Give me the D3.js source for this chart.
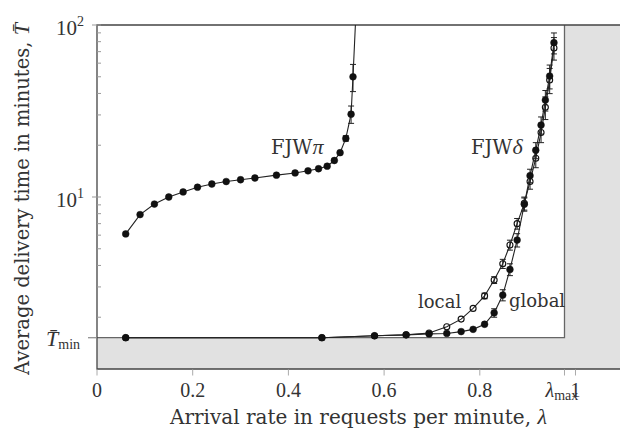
<!DOCTYPE html>
<html>
<head>
<meta charset="utf-8">
<script src="https://cdn.jsdelivr.net/npm/d3@7"></script>
<style>
  body { margin: 0; background: #fff; }
  svg { display: block; }
</style>
</head>
<body>
<svg id="svg" width="620" height="434"></svg>
<script>
// FJW pi series
const lamPi = [0.06, 0.09, 0.12, 0.15, 0.18, 0.21, 0.24, 0.27, 0.30, 0.33, 0.375, 0.414, 0.441, 0.463, 0.481, 0.496, 0.508, 0.520, 0.531, 0.535, 0.545];
const tPi   = [6.1, 7.9, 9.1, 10.0, 10.7, 11.4, 11.9, 12.3, 12.6, 12.9, 13.4, 13.8, 14.2, 14.6, 15.1, 16.3, 18.1, 21.9, 30.3, 50, 200];
const errPi = [0, 0, 0, 0, 0, 0, 0, 0, 0, 0, 0, 0, 0, 0, 0, 0, 0, 0.8, 3.5, 9, 0];

// FJW delta series (global = filled, local = open)
const lamD    = [0.06, 0.47, 0.58, 0.646, 0.694, 0.731, 0.761, 0.786, 0.810, 0.830, 0.848, 0.863, 0.878, 0.893, 0.905, 0.917, 0.928, 0.937, 0.946, 0.955];
const tGlobal = [1.52, 1.52, 1.56, 1.58, 1.60, 1.61, 1.65, 1.70, 1.82, 2.12, 2.69, 3.79, 5.62, 9.07, 13.3, 18.7, 26.2, 36.6, 50.5, 78.9];
const errGlobal = [0, 0, 0, 0, 0, 0, 0, 0, 0, 0.12, 0.2, 0.3, 0.5, 0.8, 1.2, 2, 3, 5, 8, 11];
const tLocal  = [1.52, 1.52, 1.56, 1.58, 1.62, 1.76, 1.95, 2.25, 2.66, 3.29, 4.09, 5.26, 7.0, 9.19, 12.3, 16.8, 23.7, 33.2, 47.9, 73.5];
const errLocal  = [0, 0, 0, 0, 0, 0, 0, 0, 0.1, 0.15, 0.25, 0.35, 0.5, 0.8, 1.2, 2, 3, 5, 8, 11];

// axis ticks
const xTicks = [0, 0.2, 0.4, 0.6, 0.8, 1];
const xTickLabels = ["0", "0.2", "0.4", "0.6", "0.8", "1"];
const yMajor = [10, 100];
const yMajorExp = ["1", "2"];
const yMinor = [2, 3, 4, 5, 6, 7, 8, 9, 20, 30, 40, 50, 60, 70, 80, 90];
const lamMax = 0.977;
const tMin = 1.52;

const svg = d3.select("svg");
const mLeft = 97, mTop = 25, mBottom = 369, mRight = 620;
// numbers and greek look closest to Computer Modern in Times metrics, words in DejaVu Serif
const numFont = '"Liberation Serif", serif';
const wordFont = '"DejaVu Serif", "Liberation Serif", serif';

const x = d3.scaleLinear().domain([0, 1.093]).range([mLeft, mRight]);
const y = d3.scaleLog().domain([1, 100]).range([mBottom, mTop]);

const ink = "#222";
const txt = "#333";

// grey forbidden regions
svg.append("rect")
  .attr("x", mLeft).attr("y", mTop)
  .attr("width", mRight - mLeft).attr("height", mBottom - mTop)
  .attr("fill", "#e1e1e1");
svg.append("rect")
  .attr("x", mLeft).attr("y", mTop)
  .attr("width", x(lamMax) - mLeft).attr("height", y(tMin) - mTop)
  .attr("fill", "#fff");

// inner box border
svg.append("path")
  .attr("d", `M${x(lamMax)},${mTop}V${y(tMin)}H${mLeft}`)
  .attr("fill", "none").attr("stroke", "#666").attr("stroke-width", 1.3);

// frame
svg.append("path")
  .attr("d", `M${mRight},${mTop}H${mLeft}V${mBottom}H${mRight}`)
  .attr("fill", "none").attr("stroke", "#444").attr("stroke-width", 1.3);

// x ticks
const xt = xTicks.concat([lamMax]);
svg.selectAll(".xtick").data(xt).enter().append("line")
  .attr("x1", d => x(d)).attr("x2", d => x(d))
  .attr("y1", mBottom + 0.5).attr("y2", mBottom + 6.5)
  .attr("stroke", "#aaa").attr("stroke-width", 1);

svg.selectAll(".xlab").data(xTicks).enter().append("text")
  .attr("x", d => x(d)).attr("y", 397)
  .attr("text-anchor", "middle")
  .attr("font-family", numFont)
  .attr("font-size", 20).attr("fill", txt)
  .text((d, i) => xTickLabels[i]);

const lm = svg.append("text")
  .attr("x", x(lamMax) - 19).attr("y", 397)
  .attr("font-family", numFont)
  .attr("font-size", 20).attr("fill", txt);
lm.append("tspan").attr("font-style", "italic").text("λ");
lm.append("tspan").attr("font-size", 14).attr("dy", 3).text("max");

// y ticks
svg.selectAll(".yminor").data(yMinor).enter().append("line")
  .attr("x1", mLeft).attr("x2", mLeft + 4)
  .attr("y1", d => y(d)).attr("y2", d => y(d))
  .attr("stroke", "#999").attr("stroke-width", 1);
svg.selectAll(".ymajor").data(yMajor).enter().append("line")
  .attr("x1", mLeft - 5).attr("x2", mLeft + 4)
  .attr("y1", d => y(d)).attr("y2", d => y(d))
  .attr("stroke", "#999").attr("stroke-width", 1);
svg.append("line")
  .attr("x1", mLeft - 9).attr("x2", mLeft)
  .attr("y1", y(tMin)).attr("y2", y(tMin))
  .attr("stroke", "#888").attr("stroke-width", 1.2);

yMajor.forEach((v, i) => {
  const t = svg.append("text")
    .attr("x", 84).attr("y", y(v) + 9.5)
    .attr("text-anchor", "end")
    .attr("font-family", numFont)
    .attr("font-size", 21).attr("fill", txt);
  t.append("tspan").text("10");
  t.append("tspan").attr("font-size", 14).attr("dy", -9).text(yMajorExp[i]);
});

const tm = svg.append("text")
  .attr("x", 46).attr("y", y(tMin) + 8.5)
  .attr("font-family", numFont)
  .attr("font-size", 22).attr("fill", txt);
tm.append("tspan").attr("font-style", "italic").text("T\u0304");
tm.append("tspan").attr("font-size", 14).attr("dy", 3).text("min");

// axis titles
const xTitle = svg.append("text")
  .attr("x", (mLeft + mRight) / 2).attr("y", 424)
  .attr("text-anchor", "middle")
  .attr("font-family", wordFont)
  .attr("font-size", 20).attr("fill", txt);
xTitle.append("tspan").text("Arrival rate in requests per minute, ");
xTitle.append("tspan").attr("font-family", numFont).attr("font-size", 22)
  .attr("font-style", "italic").text("λ");

const yTitle = svg.append("text")
  .attr("transform", `translate(29, ${(mTop + mBottom) / 2 + 2}) rotate(-90)`)
  .attr("text-anchor", "middle")
  .attr("font-family", wordFont)
  .attr("font-size", 19.5).attr("fill", txt);
yTitle.append("tspan").text("Average delivery time in minutes, ");
yTitle.append("tspan").attr("font-family", numFont).attr("font-size", 22)
  .attr("font-style", "italic").text("T\u0304");

// clip for data
svg.append("clipPath").attr("id", "clip")
  .append("rect").attr("x", mLeft).attr("y", mTop)
  .attr("width", mRight - mLeft).attr("height", mBottom - mTop);
const plot = svg.append("g").attr("clip-path", "url(#clip)");

const line = d3.line().x(d => x(d[0])).y(d => y(d[1]));

function drawSeries(lams, vals, errs, open) {
  const pts = lams.map((l, i) => [l, vals[i], errs[i]]);
  plot.append("path")
    .attr("d", line(pts))
    .attr("fill", "none").attr("stroke", ink).attr("stroke-width", 1.1);
  const eb = pts.filter(d => d[2] > 0);
  plot.selectAll(null).data(eb).enter().append("path")
    .attr("d", d => {
      const cx = x(d[0]), y1 = y(d[1] + d[2]), y2 = y(Math.max(d[1] - d[2], 1.01));
      return `M${cx},${y1}V${y2}M${cx - 3},${y1}H${cx + 3}M${cx - 3},${y2}H${cx + 3}`;
    })
    .attr("fill", "none").attr("stroke", ink).attr("stroke-width", 1);
  plot.selectAll(null).data(pts).enter().append("circle")
    .attr("cx", d => x(d[0])).attr("cy", d => y(d[1]))
    .attr("r", open ? 3 : 3.4)
    .attr("fill", open ? "none" : "#111")
    .attr("stroke", "#111").attr("stroke-width", open ? 1.1 : 0.5);
}

drawSeries(lamD, tLocal, errLocal, true);
drawSeries(lamD, tGlobal, errGlobal, false);
drawSeries(lamPi, tPi, errPi, false);

// series labels
function label(px, py, size, main, greek) {
  const t = svg.append("text").attr("x", px).attr("y", py)
    .attr("font-family", wordFont)
    .attr("font-size", size).attr("fill", txt);
  t.append("tspan").text(main);
  if (greek) t.append("tspan").attr("font-family", numFont).attr("font-size", 22)
    .attr("font-style", "italic").text(greek);
}
label(271, 154, 19.5, "FJW", "π");
label(471, 154, 19.5, "FJW", "δ");
label(418, 308, 18, "local");
label(509, 307, 18, "global");
</script>
</body>
</html>
